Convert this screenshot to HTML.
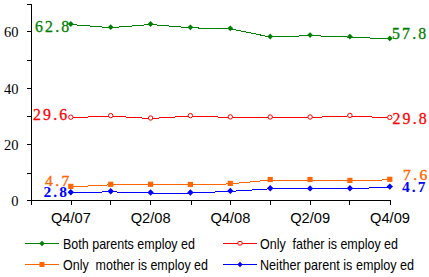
<!DOCTYPE html>
<html><head><meta charset="utf-8"><style>
html,body{margin:0;padding:0;background:#fff;width:429px;height:277px;overflow:hidden}
svg{position:absolute;left:0;top:0}
text{white-space:pre}
.ax{font-family:"Liberation Serif",serif;font-size:14.5px}
.xl{font-family:"Liberation Sans",sans-serif;font-size:15px}
.lab{font-family:"Liberation Serif",serif;font-size:15.8px;letter-spacing:2.2px;stroke-width:0.3px}
.lab3o{font-family:"Liberation Serif",serif;font-size:15.5px;letter-spacing:2.4px;stroke-width:0.4px}
.lab3{font-family:"Liberation Serif",serif;font-size:15.5px;font-weight:bold;letter-spacing:2px}
.lg{font-family:"Liberation Sans",sans-serif;font-size:15px}
</style></head><body>
<svg width="429" height="277" viewBox="0 0 429 277">
<path d="M31.5 4V205M27 4.5H31M27 31.5H31M27 60.5H31M27 88.5H31M27 116.5H31M27 144.5H31M27 173.5H31M27 200.5H390.5" stroke="#000" stroke-width="1" fill="none" shape-rendering="crispEdges"/>
<path d="M31.5 200V205M71.5 200V205M110.5 200V205M150.5 200V205M191.5 200V205M230.5 200V205M270.5 200V205M310.5 200V205M349.5 200V205M390.5 200V205" stroke="#000" stroke-width="1" fill="none" shape-rendering="crispEdges"/>
<polyline points="70.8,24.5 110.7,27.7 150.6,24.5 190.4,27.8 230.3,28.8 270.2,37.0 310.1,35.6 349.9,37.1 389.8,38.9" fill="none" stroke="#008000" stroke-width="1" shape-rendering="crispEdges"/>
<polyline points="70.8,117.7 110.7,116.1 150.6,118.5 190.4,116.1 230.3,117.4 270.2,117.5 310.1,117.5 349.9,115.9 389.8,117.9" fill="none" stroke="#ff0000" stroke-width="1" shape-rendering="crispEdges"/>
<polyline points="70.8,186.9 110.7,184.8 150.6,184.8 190.4,185.0 230.3,183.9 270.2,180.0 310.1,180.0 349.9,180.9 389.8,179.8" fill="none" stroke="#ff6600" stroke-width="1" shape-rendering="crispEdges"/>
<polyline points="70.8,192.7 110.7,191.8 150.6,193.0 190.4,193.0 230.3,191.4 270.2,188.8 310.1,188.9 349.9,188.8 389.8,187.1" fill="none" stroke="#0000ff" stroke-width="1" shape-rendering="crispEdges"/>
<path d="M67.9 24.0L70.8 21.1L73.7 24.0L70.8 26.9Z" fill="#008000"/>
<path d="M107.8 27.2L110.7 24.3L113.6 27.2L110.7 30.1Z" fill="#008000"/>
<path d="M147.7 24.0L150.6 21.1L153.5 24.0L150.6 26.9Z" fill="#008000"/>
<path d="M187.5 27.3L190.4 24.4L193.3 27.3L190.4 30.2Z" fill="#008000"/>
<path d="M227.4 28.3L230.3 25.4L233.2 28.3L230.3 31.2Z" fill="#008000"/>
<path d="M267.3 36.5L270.2 33.6L273.1 36.5L270.2 39.4Z" fill="#008000"/>
<path d="M307.2 35.1L310.1 32.2L312.9 35.1L310.1 38.0Z" fill="#008000"/>
<path d="M347.0 36.6L349.9 33.7L352.8 36.6L349.9 39.5Z" fill="#008000"/>
<path d="M386.9 38.4L389.8 35.5L392.7 38.4L389.8 41.3Z" fill="#008000"/>
<circle cx="70.8" cy="117.2" r="2.2" fill="#fff" stroke="#ff0000" stroke-width="1"/>
<circle cx="110.7" cy="115.6" r="2.2" fill="#fff" stroke="#ff0000" stroke-width="1"/>
<circle cx="150.6" cy="118.0" r="2.2" fill="#fff" stroke="#ff0000" stroke-width="1"/>
<circle cx="190.4" cy="115.6" r="2.2" fill="#fff" stroke="#ff0000" stroke-width="1"/>
<circle cx="230.3" cy="116.9" r="2.2" fill="#fff" stroke="#ff0000" stroke-width="1"/>
<circle cx="270.2" cy="117.0" r="2.2" fill="#fff" stroke="#ff0000" stroke-width="1"/>
<circle cx="310.1" cy="117.0" r="2.2" fill="#fff" stroke="#ff0000" stroke-width="1"/>
<circle cx="349.9" cy="115.4" r="2.2" fill="#fff" stroke="#ff0000" stroke-width="1"/>
<circle cx="389.8" cy="117.4" r="2.2" fill="#fff" stroke="#ff0000" stroke-width="1"/>
<rect x="68.2" y="183.8" width="5.2" height="5.2" fill="#ff6600"/>
<rect x="108.1" y="181.7" width="5.2" height="5.2" fill="#ff6600"/>
<rect x="148.0" y="181.7" width="5.2" height="5.2" fill="#ff6600"/>
<rect x="187.8" y="181.9" width="5.2" height="5.2" fill="#ff6600"/>
<rect x="227.7" y="180.8" width="5.2" height="5.2" fill="#ff6600"/>
<rect x="267.6" y="176.9" width="5.2" height="5.2" fill="#ff6600"/>
<rect x="307.4" y="176.9" width="5.2" height="5.2" fill="#ff6600"/>
<rect x="347.3" y="177.8" width="5.2" height="5.2" fill="#ff6600"/>
<rect x="387.2" y="176.7" width="5.2" height="5.2" fill="#ff6600"/>
<path d="M67.6 192.2L70.8 189.0L74.0 192.2L70.8 195.4Z" fill="#0000ff"/>
<path d="M107.5 191.3L110.7 188.1L113.9 191.3L110.7 194.5Z" fill="#0000ff"/>
<path d="M147.4 192.5L150.6 189.3L153.8 192.5L150.6 195.7Z" fill="#0000ff"/>
<path d="M187.2 192.5L190.4 189.3L193.6 192.5L190.4 195.7Z" fill="#0000ff"/>
<path d="M227.1 190.9L230.3 187.7L233.5 190.9L230.3 194.1Z" fill="#0000ff"/>
<path d="M267.0 188.3L270.2 185.1L273.4 188.3L270.2 191.5Z" fill="#0000ff"/>
<path d="M306.9 188.4L310.1 185.2L313.2 188.4L310.1 191.6Z" fill="#0000ff"/>
<path d="M346.7 188.3L349.9 185.1L353.1 188.3L349.9 191.5Z" fill="#0000ff"/>
<path d="M386.6 186.6L389.8 183.4L393.0 186.6L389.8 189.8Z" fill="#0000ff"/>
<path d="M25 243.5H59" stroke="#008000" stroke-width="1"/><path d="M39.2 243.5L42.0 240.7L44.8 243.5L42.0 246.3Z" fill="#008000"/>
<path d="M25 264.5H59" stroke="#ff6600" stroke-width="1"/><rect x="39.5" y="262.0" width="5.0" height="5.0" fill="#ff6600"/>
<path d="M223 243.5H257" stroke="#ff0000" stroke-width="1"/><rect x="238.0" y="241.5" width="4" height="3.5" rx="0.8" fill="#fff" stroke="#ff0000" stroke-width="1"/>
<path d="M223 264.5H257" stroke="#0000ff" stroke-width="1"/><path d="M237.3 264.5L240.0 261.8L242.7 264.5L240.0 267.2Z" fill="#0000ff"/>
<text x="18.5" y="37" class="ax" text-anchor="end" fill="#000" >60</text>
<text x="18.5" y="94" class="ax" text-anchor="end" fill="#000" >40</text>
<text x="18.5" y="150" class="ax" text-anchor="end" fill="#000" >20</text>
<text x="18.5" y="206" class="ax" text-anchor="end" fill="#000" >0</text>
<text x="70.9" y="223" class="xl" text-anchor="middle" fill="#000" textLength="40" lengthAdjust="spacingAndGlyphs" >Q4/07</text>
<text x="150.7" y="223" class="xl" text-anchor="middle" fill="#000" textLength="40" lengthAdjust="spacingAndGlyphs" >Q2/08</text>
<text x="230.4" y="223" class="xl" text-anchor="middle" fill="#000" textLength="40" lengthAdjust="spacingAndGlyphs" >Q4/08</text>
<text x="310.2" y="223" class="xl" text-anchor="middle" fill="#000" textLength="40" lengthAdjust="spacingAndGlyphs" >Q2/09</text>
<text x="390.0" y="223" class="xl" text-anchor="middle" fill="#000" textLength="40" lengthAdjust="spacingAndGlyphs" >Q4/09</text>
<text x="35" y="31.5" class="lab" text-anchor="start" fill="#008000" stroke="#008000">62.8</text>
<text x="392" y="38.5" class="lab" text-anchor="start" fill="#008000" stroke="#008000">57.8</text>
<text x="33" y="120" class="lab" text-anchor="start" fill="#ff0000" stroke="#ff0000">29.6</text>
<text x="392.5" y="123.5" class="lab" text-anchor="start" fill="#ff0000" stroke="#ff0000">29.8</text>
<text x="45" y="185.5" class="lab3o" text-anchor="start" fill="#ff6600" stroke="#ff6600">4.7</text>
<text x="403" y="179.5" class="lab3o" text-anchor="start" fill="#ff6600" stroke="#ff6600">7.6</text>
<text x="43.5" y="197" class="lab3" text-anchor="start" fill="#0000ff" >2.8</text>
<text x="402" y="192" class="lab3" text-anchor="start" fill="#0000ff" >4.7</text>
<text x="63" y="249" class="lg" text-anchor="start" fill="#000" textLength="132" lengthAdjust="spacingAndGlyphs" >Both parents employ ed</text>
<text x="63" y="270" class="lg" text-anchor="start" fill="#000" textLength="145" lengthAdjust="spacingAndGlyphs" >Only  mother is employ ed</text>
<text x="260" y="249" class="lg" text-anchor="start" fill="#000" textLength="138" lengthAdjust="spacingAndGlyphs" >Only  father is employ ed</text>
<text x="260" y="270" class="lg" text-anchor="start" fill="#000" textLength="154" lengthAdjust="spacingAndGlyphs" >Neither parent is employ ed</text>
</svg>
</body></html>
